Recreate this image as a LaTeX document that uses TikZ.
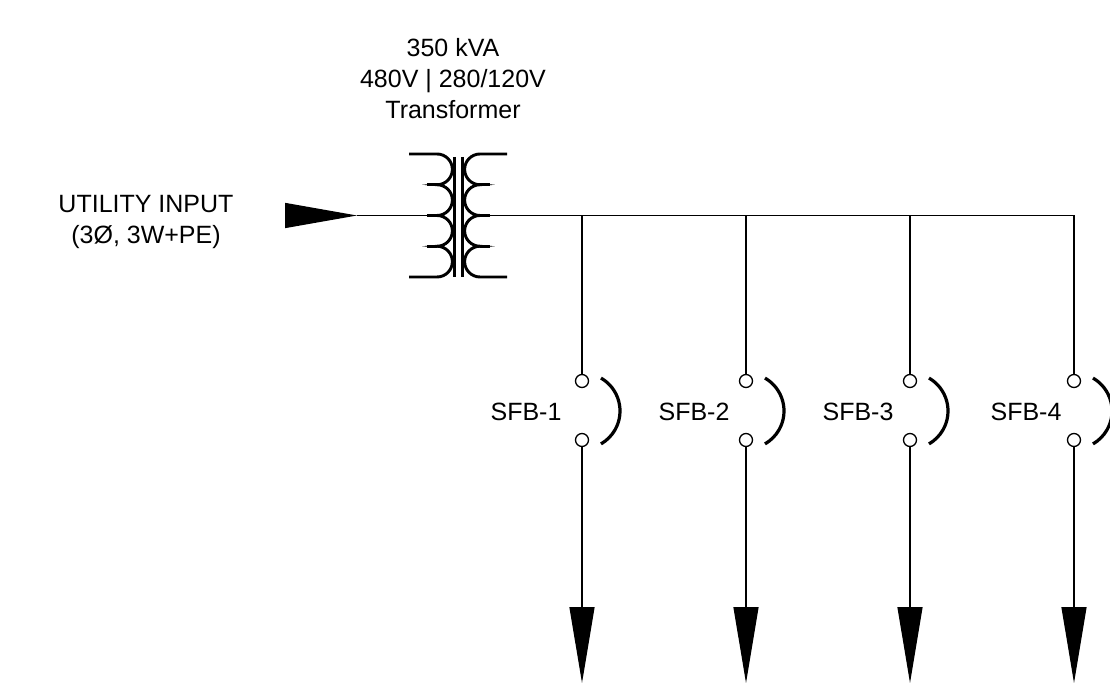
\documentclass[tikz,border=0pt]{standalone}
\usepackage{fontspec}
\setmainfont{Liberation Sans}
\usetikzlibrary{arrows.meta, positioning}

\tikzset{
  wire/.style={line width=1pt},
  coil/.style={line width=2.2pt},
  core/.style={line width=1.8pt},
  brk/.style={line width=2.4pt},
  term/.style={circle, draw, line width=1pt, minimum size=9.75pt, inner sep=0pt},
  lbl/.style={font=\fontsize{18.75}{23.25}\selectfont, inner sep=0pt, align=center},
  feed/.style={wire, -{Triangle[length=57pt, width=18.75pt]}},
  inlet/.style={wire, -{Triangle[length=54pt, width=18.75pt]}}
}

\begin{document}
\begin{tikzpicture}[x=0.75pt, y=-0.75pt]
   \useasboundingbox (0,0) rectangle (1110,698);

   % Labels
      \node[lbl, anchor=north] (xfmrlbl) at (453,38)  {350 kVA\\480V | 280/120V\\Transformer};
      \node[lbl, anchor=north] (inlbl)   at (146,195) {UTILITY INPUT\\(3Ø, 3W+PE)};

   % Transformer
      \coordinate (prim) at (427,215.5);
      \coordinate (sec)  at (490,215.5);
      \draw[coil] (409,154) -- (437,154)
         arc[start angle=-90, end angle=90, radius=15.375]
         arc[start angle=-90, end angle=90, radius=15.375]
         arc[start angle=-90, end angle=90, radius=15.375]
         arc[start angle=-90, end angle=90, radius=15.375] -- (409,277);
      \draw[coil] (427,184.75) -- (437,184.75) (prim) -- (437,215.5) (427,246.25) -- (437,246.25);
      \draw[core] (454.5,157) -- (454.5,277) (462.5,157) -- (462.5,277);
      \draw[coil] (507,154) -- (480,154)
         arc[start angle=-90, end angle=-270, radius=15.375]
         arc[start angle=-90, end angle=-270, radius=15.375]
         arc[start angle=-90, end angle=-270, radius=15.375]
         arc[start angle=-90, end angle=-270, radius=15.375] -- (507,277);
      \draw[coil] (490,184.75) -- (480,184.75) (sec) -- (480,215.5) (490,246.25) -- (480,246.25);

   % Utility input
      \coordinate (inbase) at (285,215.5);
      \coordinate (intip)  at (357,215.5);
      \draw[inlet] (inbase) -- (intip);
      \draw[wire] (intip) -- (prim);

   % Bus taps
      \coordinate (tap1) at (582,215.5);
      \coordinate (tap2) at (746,215.5);
      \coordinate (tap3) at (910,215.5);
      \coordinate (tap4) at (1074,215.5);
      \draw[wire] (sec) -- (tap4);

   % Breakers
      \node[term] (t1a) at (582,381)  {};
      \node[term] (t1b) at (582,440)  {};
      \node[term] (t2a) at (746,381)  {};
      \node[term] (t2b) at (746,440)  {};
      \node[term] (t3a) at (910,381)  {};
      \node[term] (t3b) at (910,440)  {};
      \node[term] (t4a) at (1074,381) {};
      \node[term] (t4b) at (1074,440) {};

      \coordinate (c1) at (582,411);
      \coordinate (c2) at (746,411);
      \coordinate (c3) at (910,411);
      \coordinate (c4) at (1074,411);
      \draw[brk] (c1) ++(-60:38) arc[start angle=-60, end angle=60, radius=38];
      \draw[brk] (c2) ++(-60:38) arc[start angle=-60, end angle=60, radius=38];
      \draw[brk] (c3) ++(-60:38) arc[start angle=-60, end angle=60, radius=38];
      \draw[brk] (c4) ++(-60:38) arc[start angle=-60, end angle=60, radius=38];

      \node[lbl] (sfb1) at (526,412)  {SFB-1};
      \node[lbl] (sfb2) at (694,412)  {SFB-2};
      \node[lbl] (sfb3) at (858,412)  {SFB-3};
      \node[lbl] (sfb4) at (1026,412) {SFB-4};

   % Feeders
      \coordinate (out1) at (582,683);
      \coordinate (out2) at (746,683);
      \coordinate (out3) at (910,683);
      \coordinate (out4) at (1074,683);
      \draw[wire] (tap1) -- (t1a);
      \draw[wire] (tap2) -- (t2a);
      \draw[wire] (tap3) -- (t3a);
      \draw[wire] (tap4) -- (t4a);
      \draw[feed] (t1b) -- (out1);
      \draw[feed] (t2b) -- (out2);
      \draw[feed] (t3b) -- (out3);
      \draw[feed] (t4b) -- (out4);
\end{tikzpicture}
\end{document}
